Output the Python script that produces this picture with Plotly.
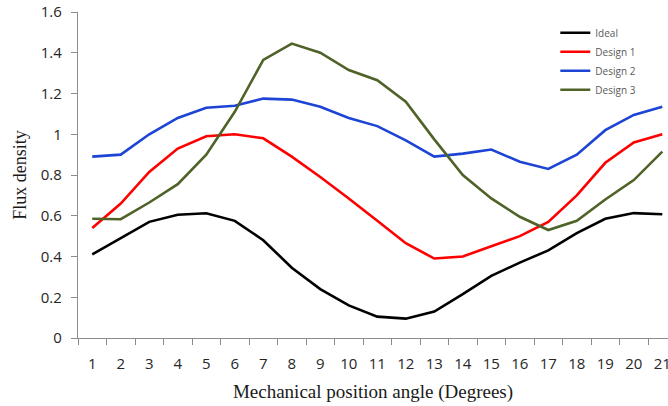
import plotly.graph_objects as go

# Mechanical position angle (degrees) and flux density per design
angles = list(range(1, 22))
tick_labels = [str(a) for a in angles]

ideal = [0.41, 0.49, 0.57, 0.605, 0.612, 0.575, 0.48, 0.345, 0.24, 0.16,
         0.105, 0.095, 0.13, 0.215, 0.305, 0.37, 0.43, 0.515, 0.585, 0.613, 0.607]
design1 = [0.54, 0.66, 0.815, 0.93, 0.99, 1.0, 0.98, 0.89, 0.79, 0.685,
           0.575, 0.465, 0.39, 0.40, 0.45, 0.50, 0.57, 0.70, 0.86, 0.96, 1.0]
design2 = [0.89, 0.90, 1.0, 1.08, 1.13, 1.14, 1.175, 1.17, 1.135, 1.08,
           1.04, 0.97, 0.89, 0.905, 0.925, 0.865, 0.83, 0.90, 1.02, 1.095, 1.135]
design3 = [0.585, 0.583, 0.665, 0.755, 0.90, 1.11, 1.365, 1.445, 1.40, 1.315,
           1.265, 1.16, 0.975, 0.80, 0.685, 0.595, 0.53, 0.575, 0.68, 0.775, 0.915]

series = [
    ("Ideal", ideal, "#000000"),
    ("Design 1", design1, "#FF0000"),
    ("Design 2", design2, "#1D44D4"),
    ("Design 3", design3, "#4F6228"),
]

fig = go.Figure()
for name, values, color in series:
    fig.add_trace(go.Scatter(
        x=angles, y=values, name=name, mode="lines",
        line=dict(color=color, width=2.6),
    ))

axis_gray = "#8C8C8C"
tick_font = dict(family="Open Sans, Liberation Sans, sans-serif", size=15, color="#262626")
serif = "Liberation Serif, DejaVu Serif, serif"

fig.update_layout(
    width=668, height=406,
    margin=dict(l=78, r=0, t=12, b=68, autoexpand=False),
    plot_bgcolor="white", paper_bgcolor="white",
    showlegend=True,
    legend=dict(
        x=0.809, y=0.981, xanchor="left", yanchor="top",
        font=dict(family="Open Sans, Liberation Sans, sans-serif", size=10, color="#595959"),
        bgcolor="rgba(0,0,0,0)", itemwidth=30, tracegroupgap=0,
    ),
    xaxis=dict(
        range=[0.5, 21.2],
        tickmode="array", tickvals=angles, ticktext=tick_labels,
        ticks="", showgrid=False, zeroline=False,
        showline=True, linecolor=axis_gray, linewidth=1.3,
        tickfont=tick_font, automargin=False,
        ticklabelstandoff=12, ticklabeloverflow="allow",
        minor=dict(tick0=0.5, dtick=1, ticks="outside", ticklen=6,
                   tickcolor=axis_gray, tickwidth=1.3, showgrid=False),
        title=dict(text="Mechanical position angle (Degrees)",
                   font=dict(family=serif, size=19, color="#1a1a1a"), standoff=12),
    ),
    yaxis=dict(
        range=[0, 1.6], tickmode="array",
        tickvals=[0, 0.2, 0.4, 0.6, 0.8, 1.0, 1.2, 1.4, 1.6],
        ticktext=["0", "0.2", "0.4", "0.6", "0.8", "1", "1.2", "1.4", "1.6"],
        ticks="outside", ticklen=6, tickcolor=axis_gray, tickwidth=1.3,
        showgrid=False, zeroline=False,
        showline=True, linecolor=axis_gray, linewidth=1.3,
        tickfont=tick_font, automargin=False, ticklabelstandoff=6,
        title=dict(text="Flux density",
                   font=dict(family=serif, size=18, color="#1a1a1a"), standoff=9),
    ),
)

fig.write_html("out.html")
